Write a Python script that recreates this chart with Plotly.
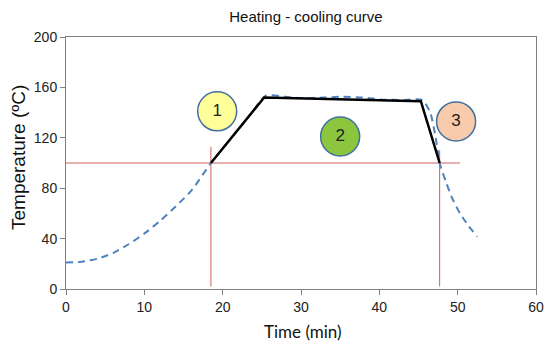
import plotly.graph_objects as go

# Data
cool_x = [0, 2, 4, 6, 8, 10, 12, 14, 16, 18.5, 21, 23.5, 25.5, 28, 30, 33, 35, 38, 40, 43, 45.5, 46.5, 47.2, 47.7, 48.5, 49.3, 50.3, 51.4, 52.5]
cool_y = [21, 21.7, 24, 28.5, 35.5, 44, 54, 65.5, 78, 100, 119, 138, 153.5, 152.5, 151.5, 152, 152.5, 152, 150.5, 150, 150, 140, 120, 100, 85, 72, 60, 50, 41.5]

ideal_x = [18.5, 25.3, 45.3, 47.7]
ideal_y = [100, 152, 149, 100]

ref_h_x = [0, 50.3]
ref_h_y = [100, 100]
ref_v1_x = [18.5, 18.5]
ref_v1_y = [113, 2]
ref_v2_x = [47.7, 47.7]
ref_v2_y = [110, 2]

stage_x = [19.3, 35, 49.8]
stage_y = [141, 121, 133]
stage_labels = ["1", "2", "3"]
stage_colors = ["#FFFF99", "#8CC63F", "#F8CBAD"]

x_ticks = [0, 10, 20, 30, 40, 50, 60]
y_ticks = [0, 40, 80, 120, 160, 200]

fig = go.Figure()
red = "#D0605C"
fig.add_trace(go.Scatter(x=ref_h_x, y=ref_h_y, mode="lines", line=dict(color=red, width=1), hoverinfo="skip"))
fig.add_trace(go.Scatter(x=ref_v1_x, y=ref_v1_y, mode="lines", line=dict(color=red, width=1), hoverinfo="skip"))
fig.add_trace(go.Scatter(x=ref_v2_x, y=ref_v2_y, mode="lines", line=dict(color=red, width=1), hoverinfo="skip"))
fig.add_trace(go.Scatter(x=cool_x, y=cool_y, mode="lines", line=dict(color="#4F81BD", width=2, dash="7px,5px", shape="spline", smoothing=0.6), hoverinfo="skip"))
fig.add_trace(go.Scatter(x=ideal_x, y=ideal_y, mode="lines", line=dict(color="black", width=2.5), hoverinfo="skip"))
fig.add_trace(go.Scatter(
    x=stage_x, y=stage_y, mode="markers+text", text=stage_labels,
    textposition="middle center",
    textfont=dict(family="Liberation Sans, Arial", size=17, color="#222222"),
    marker=dict(size=39, color=stage_colors, line=dict(color="#41719C", width=1.5)),
    hoverinfo="skip"))

axis_common = dict(
    showgrid=False, zeroline=False, showline=True, linecolor="#808080", linewidth=1,
    mirror=True, ticks="outside", ticklen=5, tickcolor="#808080", automargin=False,
    tickfont=dict(family="Liberation Sans, Arial", size=14, color="#222222"),
)
fig.update_layout(
    width=550, height=345,
    margin=dict(l=66, r=14, t=37, b=56, autoexpand=False),
    paper_bgcolor="white", plot_bgcolor="white",
    showlegend=False,
    title=dict(text="Heating - cooling curve", x=306 / 550, xanchor="center", xref="container",
               y=1 - 17 / 345, yanchor="middle", yref="container",
               font=dict(family="Liberation Sans, Arial", size=15, color="#111111")),
    xaxis=dict(range=[0, 60], tickvals=x_ticks, **axis_common),
    yaxis=dict(range=[0, 200], tickvals=y_ticks, **axis_common),
    annotations=[
        dict(text="Time (min)", xref="paper", yref="paper", x=(302.5 - 66) / 470, y=-(331 - 289) / 252,
             xanchor="center", yanchor="middle", showarrow=False,
             font=dict(family="Lato, Liberation Sans", size=17, color="#111111")),
        dict(text="Temperature (ºC)", xref="paper", yref="paper", x=-(66 - 18) / 470, y=(289 - 158) / 252,
             xanchor="center", yanchor="middle", showarrow=False, textangle=-90,
             font=dict(family="Liberation Sans, Arial", size=19, color="#111111")),
    ],
)
fig.write_html("out.html", config={"displayModeBar": False},
               post_script="document.body.style.margin='0';")
